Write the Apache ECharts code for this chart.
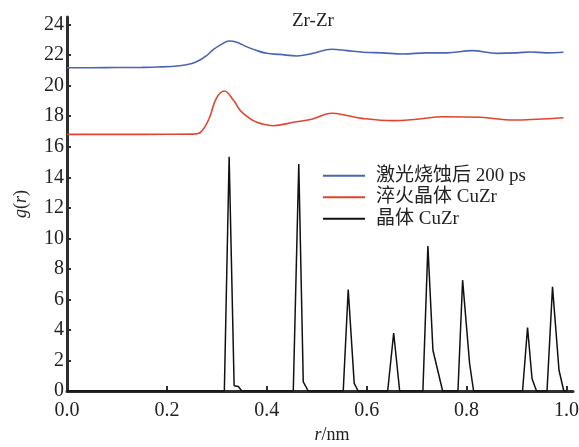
<!DOCTYPE html>
<html>
<head>
<meta charset="utf-8">
<script src="https://cdn.jsdelivr.net/npm/echarts@6/dist/echarts.min.js"></script>
<style>html,body{margin:0;padding:0;background:#fff;}#c{width:579px;height:447px;}</style>
</head>
<body>
<div id="c"></div>
<script>
const seriesNames = ['激光烧蚀后 200 ps', '淬火晶体 CuZr', '晶体 CuZr'];
const xTicks = [0, 0.2, 0.4, 0.6, 0.8, 1.0];
const yTicks = [0, 2, 4, 6, 8, 10, 12, 14, 16, 18, 20, 22, 24];

const rBlue = [0, 0.05, 0.1, 0.15, 0.18, 0.226, 0.25, 0.266, 0.28, 0.292, 0.31, 0.324, 0.34, 0.359, 0.38, 0.4, 0.426, 0.46, 0.49, 0.53, 0.56, 0.593, 0.63, 0.673, 0.72, 0.76, 0.811, 0.861, 0.9, 0.928, 0.96, 0.994];
const gBlue = [21.18, 21.18, 21.19, 21.2, 21.22, 21.31, 21.45, 21.68, 21.98, 22.34, 22.72, 22.93, 22.85, 22.56, 22.3, 22.12, 22.05, 21.95, 22.1, 22.39, 22.3, 22.19, 22.15, 22.08, 22.15, 22.15, 22.3, 22.12, 22.15, 22.21, 22.15, 22.19];

const rRed = [0, 0.1, 0.2, 0.252, 0.266, 0.276, 0.286, 0.299, 0.315, 0.333, 0.346, 0.36, 0.373, 0.39, 0.413, 0.453, 0.49, 0.53, 0.56, 0.59, 0.653, 0.7, 0.753, 0.827, 0.894, 0.94, 0.994];
const gRed = [16.81, 16.81, 16.82, 16.83, 16.92, 17.3, 17.97, 19.17, 19.65, 19.06, 18.41, 18.0, 17.71, 17.5, 17.38, 17.6, 17.8, 18.19, 18.05, 17.86, 17.71, 17.8, 17.97, 17.93, 17.75, 17.8, 17.9];

const rBlack = [0, 0.315, 0.3246, 0.3346, 0.343, 0.35, 0.453, 0.464, 0.473, 0.483, 0.553, 0.563, 0.575, 0.583, 0.642, 0.654, 0.666, 0.7125, 0.7225, 0.7326, 0.752, 0.7827, 0.792, 0.806, 0.814, 0.912, 0.922, 0.931, 0.94, 0.961, 0.972, 0.985, 0.9946, 1.0];
const gBlack = [0, 0, 15.34, 0.35, 0.3, 0, 0, 14.87, 0.6, 0, 0, 6.65, 0.5, 0, 0, 3.8, 0, 0, 9.49, 2.67, 0, 0, 7.26, 1.8, 0, 0, 4.16, 0.8, 0, 0, 6.82, 1.36, 0, 0];

const zip = (a, b) => a.map((x, i) => [x, b[i]]);
const serif = '"Liberation Serif", "Times New Roman", "Noto Sans CJK SC", serif';
const axisColor = '#2e2e2e';

const chart = echarts.init(document.getElementById('c'), null, {renderer: 'canvas'});
chart.setOption({
  backgroundColor: '#fff',
  animation: false,
  title: {
    text: 'Zr-Zr', left: 292, top: 12, padding: 0,
    textStyle: {fontFamily: serif, fontSize: 19, fontWeight: 'normal', color: '#222'}
  },
  legend: {
    orient: 'vertical', left: 323, top: 165, padding: 0,
    icon: 'rect', itemWidth: 42, itemHeight: 2, itemGap: 0,
    textStyle: {fontFamily: serif, fontSize: 19, color: '#222', lineHeight: 21.5, padding: [0, 0, 0, 6]},
    data: seriesNames
  },
  grid: {left: 67, right: 6, top: 17, bottom: 56, outerBoundsMode: 'none'},
  xAxis: {
    type: 'value', min: 0, max: 1.013,
    name: '{i|r}/nm', nameLocation: 'middle', nameGap: 25,
    nameTextStyle: {fontFamily: serif, fontSize: 18, color: '#222', padding: [0, 0, 0, 24],
      rich: {i: {fontStyle: 'italic', fontFamily: serif, fontSize: 18, color: '#222'}}},
    axisLine: {lineStyle: {color: axisColor, width: 3}},
    axisTick: {inside: true, length: 5, lineStyle: {color: axisColor, width: 2}, customValues: xTicks.slice(1)},
    axisLabel: {customValues: xTicks, formatter: v => v.toFixed(1), fontFamily: serif, fontSize: 20, color: '#222', margin: 10},
    splitLine: {show: false}
  },
  yAxis: {
    type: 'value', min: 0, max: 24.5,
    name: '{i|g}({i|r})', nameLocation: 'middle', nameGap: 37, nameRotate: 90,
    nameTextStyle: {fontFamily: serif, fontSize: 18, color: '#222',
      rich: {i: {fontStyle: 'italic', fontFamily: serif, fontSize: 18, color: '#222'}}},
    axisLine: {show: true, lineStyle: {color: axisColor, width: 3}},
    axisTick: {show: true, inside: true, length: 4, lineStyle: {color: axisColor, width: 2}, customValues: yTicks},
    axisLabel: {customValues: yTicks, fontFamily: serif, fontSize: 20, color: '#222', margin: 3},
    splitLine: {show: false}
  },
  series: [
    {name: seriesNames[0], type: 'line', data: zip(rBlue, gBlue), smooth: 0.4, showSymbol: false,
     lineStyle: {color: '#4a66b2', width: 1.6}, itemStyle: {color: '#4a66b2'}},
    {name: seriesNames[1], type: 'line', data: zip(rRed, gRed), smooth: 0.4, showSymbol: false,
     lineStyle: {color: '#e2452f', width: 1.6}, itemStyle: {color: '#e2452f'}},
    {name: seriesNames[2], type: 'line', data: zip(rBlack, gBlack), showSymbol: false,
     lineStyle: {color: '#111', width: 1.5}, itemStyle: {color: '#111'}}
  ]
});
</script>
</body>
</html>
